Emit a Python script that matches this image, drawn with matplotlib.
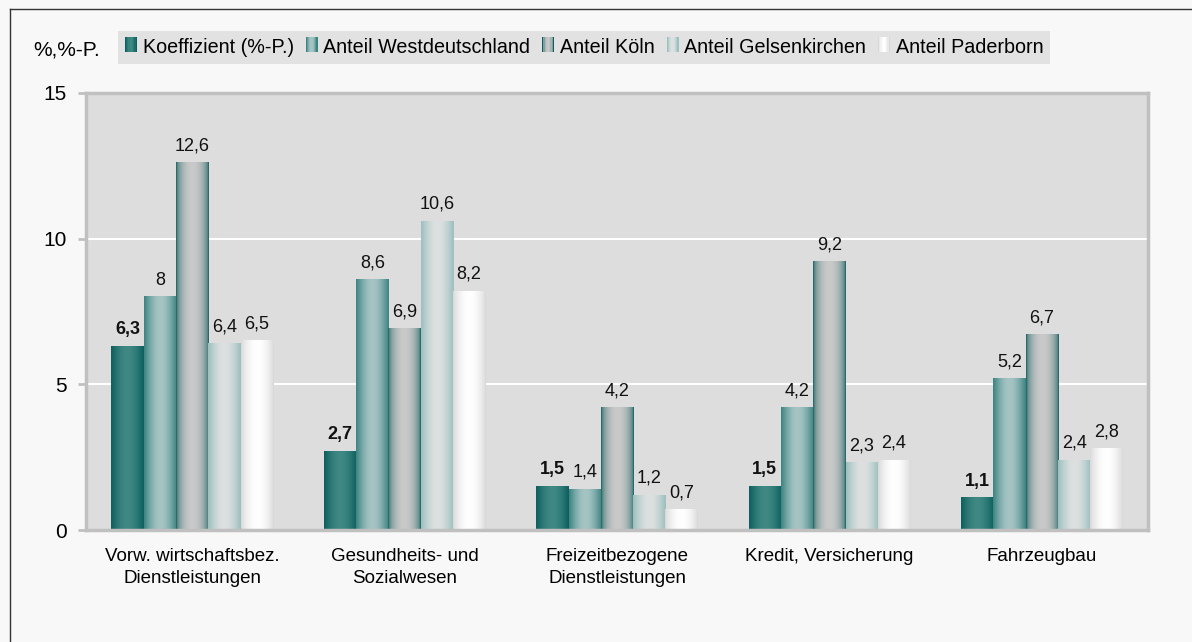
import matplotlib
matplotlib.use('Agg')
import matplotlib.pyplot as plt
import numpy as np
from matplotlib.colors import to_rgb
from matplotlib.patches import Rectangle
from matplotlib.legend_handler import HandlerBase

plt.rcParams['font.family'] = ['Liberation Sans', 'DejaVu Sans']

categories = ['Vorw. wirtschaftsbez.\nDienstleistungen', 'Gesundheits- und\nSozialwesen',
              'Freizeitbezogene\nDienstleistungen', 'Kredit, Versicherung', 'Fahrzeugbau']
series = ['Koeffizient (%-P.)', 'Anteil Westdeutschland', 'Anteil Köln',
          'Anteil Gelsenkirchen', 'Anteil Paderborn']
koeffizient = [6.3, 2.7, 1.5, 1.5, 1.1]
westdeutschland = [8.0, 8.6, 1.4, 4.2, 5.2]
koeln = [12.6, 6.9, 4.2, 9.2, 6.7]
gelsenkirchen = [6.4, 10.6, 1.2, 2.3, 2.4]
paderborn = [6.5, 8.2, 0.7, 2.4, 2.8]
values = [koeffizient, westdeutschland, koeln, gelsenkirchen, paderborn]

# (edge colour, centre colour, sharpness) for the horizontal shading of each series
shades = [('#0d5f5f', '#3f8883', 1.0),
          ('#3c8482', '#a6c4c4', 1.0),
          ('#135c5c', '#c9c9c9', 0.45),
          ('#9cc0c0', '#dde0e0', 1.0),
          ('#d8d8d8', '#ffffff', 0.8)]


def gradient(edge, centre, p, n=64):
    u = np.linspace(0, 1, n)
    t = np.sin(np.pi * u) ** p
    e, c = np.array(to_rgb(edge)), np.array(to_rgb(centre))
    return (e[None, :] * (1 - t[:, None]) + c[None, :] * t[:, None])[None, :, :]


class GradHandler(HandlerBase):
    def __init__(self, shade):
        super().__init__()
        self.shade = shade

    def create_artists(self, legend, orig, xd, yd, w, h, fs, trans):
        cols = gradient(*self.shade, n=10)[0]
        arts = []
        for k, col in enumerate(cols):
            arts.append(Rectangle((xd + k * w / 10, yd), w / 10 + 0.3, h,
                                  facecolor=col, edgecolor='none', transform=trans))
        return arts


fig = plt.figure(figsize=(11.92, 6.42), dpi=100, facecolor='#f8f8f8')
ax = fig.add_axes([86 / 1192, 1 - 530 / 642, (1148 - 86) / 1192, (530 - 93) / 642])
ax.set_facecolor('#dddddd')

x = np.arange(len(categories))
w = 0.152
for i, (vals, shade) in enumerate(zip(values, shades)):
    bars = ax.bar(x + (i - 2) * w, vals, w, color=shade[1], zorder=2, label=series[i])
    img = gradient(*shade)
    for b, v in zip(bars, vals):
        b.set_visible(False)
        ax.imshow(img, extent=(b.get_x(), b.get_x() + b.get_width(), 0, b.get_height()),
                  aspect='auto', zorder=2, interpolation='bilinear')
        ax.annotate(f'{v:g}'.replace('.', ','), (b.get_x() + b.get_width() / 2, v),
                    xytext=(0, 6), textcoords='offset points', ha='center', va='bottom',
                    fontsize=13, color='#111111', fontweight='bold' if i == 0 else 'normal')

ax.set_xlim(-0.5, 4.5)
ax.set_ylim(0, 15)
ax.set_yticks([0, 5, 10, 15])
ax.set_xticks(x)
ax.set_xticklabels(categories, fontsize=13.5, linespacing=1.35)
ax.tick_params(axis='x', length=0, pad=13)
ax.tick_params(axis='y', length=6, width=2, color='#c0c0c0', labelsize=15, pad=8)
ax.yaxis.grid(True, color='white', linewidth=1.5, zorder=1)
ax.set_axisbelow(True)
for s in ax.spines.values():
    s.set_color('#c0c0c0')
    s.set_linewidth(2.5)

fig.text(33 / 1192, 1 - 50 / 642, '%,%-P.', fontsize=15, va='center', ha='left')

proxies = [Rectangle((0, 0), 1, 1) for _ in series]
leg = fig.legend(proxies, series,
                 handler_map={p: GradHandler(s) for p, s in zip(proxies, shades)},
                 loc='center left', bbox_to_anchor=(118 / 1192, 1 - 47.5 / 642),
                 ncol=5, fontsize=14.2, frameon=True, fancybox=False,
                 handlelength=0.6, handleheight=0.8, handletextpad=0.3,
                 columnspacing=0.6, borderpad=0.35, borderaxespad=0)
leg.get_frame().set_facecolor('#dddddd')
leg.get_frame().set_edgecolor('none')

# outer chart frame
fig.add_artist(plt.Line2D([9.5 / 1192, 9.5 / 1192], [0, 1 - 8.5 / 642], color='#333333', lw=1,
                          transform=fig.transFigure))
fig.add_artist(plt.Line2D([9.5 / 1192, 1], [1 - 8.5 / 642, 1 - 8.5 / 642], color='#333333', lw=1,
                          transform=fig.transFigure))

fig.savefig('out.png', dpi=100, facecolor=fig.get_facecolor())
